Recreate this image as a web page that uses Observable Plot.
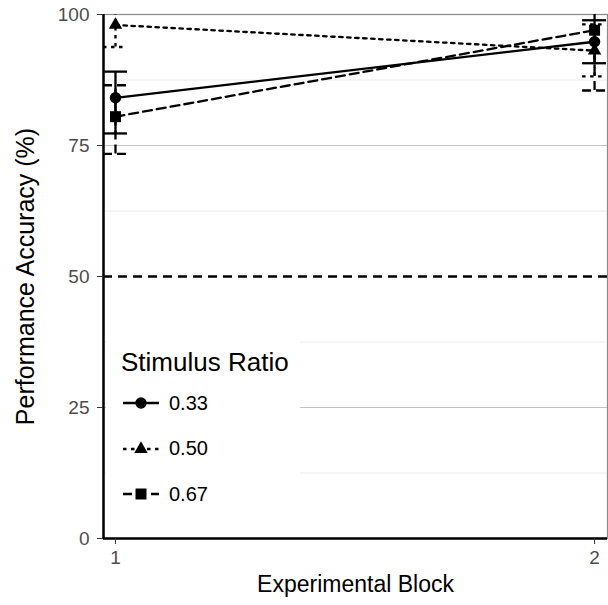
<!DOCTYPE html>
<html><head><meta charset="utf-8">
<script src="https://cdn.jsdelivr.net/npm/d3@7"></script>
<script src="https://cdn.jsdelivr.net/npm/@observablehq/plot@0.6"></script>
<style>
body{margin:0;background:#fff;}
#wrap{position:relative;width:608px;height:605px;font-family:"Liberation Sans",Arial,sans-serif;}
#legend{position:absolute;left:106px;top:328px;width:194px;height:190px;background:#fff;}
#legend .title{position:absolute;left:15px;top:21px;font-size:26px;color:#000;line-height:1;white-space:nowrap;}
#legend .item{position:absolute;left:16px;height:24px;display:flex;align-items:center;}
#legend .item span{font-size:20px;color:#000;margin-left:9px;}
</style></head><body><div id="wrap"><div id="legend"></div></div>
<script>
// ---- data ----
const blocks = [1, 2];
const ratios = ["0.33", "0.50", "0.67"];
const mean033 = [84.1, 94.8];
const low033  = [77.3, 90.7];
const high033 = [89.1, 98.9];
const mean050 = [98.0, 93.1];
const low050  = [93.8, 88.2];
const high050 = [102.2, 98.1];
const mean067 = [80.5, 97.0];
const low067  = [73.4, 85.5];
const high067 = [86.5, 108.5];
const yTicks = [0, 25, 50, 75, 100];
const xTicks = [1, 2];
const chanceLevel = [50];
const xLabel = "Experimental Block";
const yLabel = "Performance Accuracy (%)";
const legendTitle = "Stimulus Ratio";

// ---- styling ----
const symbols = ["circle", "triangle", "square"];
const symR = [5.7, 5.0, 6.2];
const dashes = [null, "3.5,4.5", "9,5"];
const lw = 2.3;
const capHalf = 0.025;
const xDomain = [0.975, 2.027];

const series = [
  {name: ratios[0], mean: mean033, low: low033, high: high033},
  {name: ratios[1], mean: mean050, low: low050, high: high050},
  {name: ratios[2], mean: mean067, low: low067, high: high067}
];

const majorGrid = yTicks.filter(v => v > yTicks[0] && v < yTicks[yTicks.length-1] && !chanceLevel.includes(v));
const minorGrid = d3.pairs(yTicks).map(([a,b]) => (a+b)/2);

const marks = [
  Plot.ruleY(minorGrid, {stroke: "#ebebeb", strokeWidth: 1}),
  Plot.ruleY(majorGrid, {stroke: "#c4c4c4", strokeWidth: 1}),
  Plot.frame({stroke: "#8a8a8a", strokeWidth: 1.2}),
  Plot.ruleY(chanceLevel, {stroke: "#000", strokeWidth: lw, strokeDasharray: "9,6"})
];

series.forEach((s, k) => {
  const data = blocks.map((b, i) => ({block: b, mean: s.mean[i], low: s.low[i], high: s.high[i]}));
  const st = {stroke: "#000", strokeWidth: lw, strokeDasharray: dashes[k], clip: true};
  marks.push(
    Plot.line(data, {x: "block", y: "mean", ...st}),
    Plot.ruleX(data, {x: "block", y1: "low", y2: "high", ...st}),
    Plot.ruleY(data, {y: "low", x1: d => d.block - capHalf, x2: d => d.block + capHalf, ...st}),
    Plot.ruleY(data, {y: "high", x1: d => d.block - capHalf, x2: d => d.block + capHalf, ...st}),
    Plot.dot(data, {x: "block", y: "mean", symbol: symbols[k], r: symR[k], fill: "#000", stroke: "none"})
  );
});

marks.push(
  Plot.ruleX([xDomain[0]], {stroke: "#000", strokeWidth: 2.5}),
  Plot.ruleY([yTicks[0]], {stroke: "#000", strokeWidth: 2.5}),
  Plot.axisY({ticks: yTicks, tickSize: 6, tickPadding: 8, fontSize: 19, stroke: "#333", fill: "#4d4d4d", label: null}),
  Plot.axisX({ticks: xTicks, tickSize: 6, tickPadding: 6, fontSize: 19, stroke: "#333", fill: "#4d4d4d", label: null, tickFormat: d3.format("d")}),
  Plot.text([xLabel], {frameAnchor: "bottom", dy: 46, fontSize: 23, fill: "#000", lineAnchor: "middle", textAnchor: "middle"}),
  Plot.text([yLabel], {frameAnchor: "left", dx: -78, rotate: -90, fontSize: 25, fill: "#000", lineAnchor: "middle", textAnchor: "middle"})
);

const chart = Plot.plot({
  width: 608, height: 605,
  marginLeft: 103, marginRight: 1, marginTop: 14, marginBottom: 67,
  style: {fontFamily: "Liberation Sans, Arial, sans-serif", background: "#fff"},
  x: {domain: xDomain, axis: null},
  y: {domain: [yTicks[0], yTicks[yTicks.length-1]], axis: null},
  marks
});
const wrap = document.getElementById("wrap");
wrap.insertBefore(chart, wrap.firstChild);

// ---- legend (inside panel, as in the reference) ----
const leg = document.getElementById("legend");
const t = document.createElement("div");
t.className = "title"; t.textContent = legendTitle; leg.appendChild(t);
series.forEach((s, k) => {
  const item = document.createElement("div");
  item.className = "item";
  item.style.top = (63 + k * 45.5) + "px";
  const svg = d3.create("svg").attr("width", 38).attr("height", 24);
  svg.append("line").attr("x1", 1).attr("x2", 37).attr("y1", 12).attr("y2", 12)
    .attr("stroke", "#000").attr("stroke-width", lw).attr("stroke-dasharray", dashes[k]);
  const symMap = {circle: d3.symbolCircle, triangle: d3.symbolTriangle, square: d3.symbolSquare};
  svg.append("path").attr("transform", "translate(19,12)")
    .attr("d", d3.symbol(symMap[symbols[k]], Math.PI * symR[k] * symR[k])()).attr("fill", "#000");
  item.appendChild(svg.node());
  const lab = document.createElement("span"); lab.textContent = s.name; item.appendChild(lab);
  leg.appendChild(item);
});
</script></body></html>
